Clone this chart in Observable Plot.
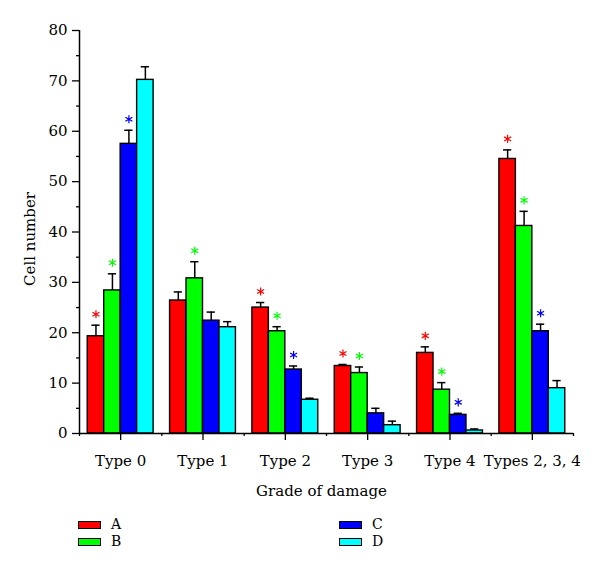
<!DOCTYPE html>
<html><head><meta charset="utf-8">
<script src="https://cdn.jsdelivr.net/npm/d3@7"></script>
<script src="https://cdn.jsdelivr.net/npm/@observablehq/plot@0.6"></script>
<style>
body{margin:0;background:#fff;font-family:"DejaVu Serif",serif;}
#chart svg{display:block;}
#legend{position:relative;height:67px;width:600px;}
.item{position:absolute;display:flex;align-items:center;height:15px;line-height:15px;font-size:14px;color:#000;}
.sw{width:21px;height:6px;border:1px solid #000;margin-right:10px;}
</style></head><body>
<div id="chart"></div>
<div id="legend"></div>
<script>
const groups = ["Type 0", "Type 1", "Type 2", "Type 3", "Type 4", "Types 2, 3, 4"];
const series = ["A", "B", "C", "D"];
const colors = ["#ff0000", "#00ff00", "#0000ff", "#00ffff"];
const valuesA = [19.3, 26.4, 25.0, 13.4, 16.0, 54.5];
const errorsA = [2.2, 1.7, 1.0, 0.3, 1.2, 1.8];
const sigA = [1, 0, 1, 1, 1, 1];
const valuesB = [28.4, 30.8, 20.3, 12.0, 8.7, 41.2];
const errorsB = [3.3, 3.3, 0.9, 1.2, 1.4, 2.9];
const sigB = [1, 1, 1, 1, 1, 1];
const valuesC = [57.5, 22.4, 12.7, 4.0, 3.7, 20.3];
const errorsC = [2.7, 1.7, 0.7, 1.0, 0.3, 1.4];
const sigC = [1, 0, 1, 0, 1, 1];
const valuesD = [70.2, 21.1, 6.7, 1.65, 0.6, 9.0];
const errorsD = [2.6, 1.1, 0.3, 0.8, 0.3, 1.5];
const sigD = [0, 0, 0, 0, 0, 0];
const yTicks = [0, 10, 20, 30, 40, 50, 60, 70, 80];
const yMinorTicks = [5, 15, 25, 35, 45, 55, 65, 75];

const values = [valuesA, valuesB, valuesC, valuesD];
const errors = [errorsA, errorsB, errorsC, errorsD];
const sigs = [sigA, sigB, sigC, sigD];
const barW = 0.2;
const data = [];
series.forEach((s, si) => groups.forEach((g, gi) => data.push({
  group: g, series: s, value: values[si][gi], err: errors[si][gi], sig: sigs[si][gi],
  cx: gi + (si - (series.length - 1) / 2) * barW
})));
const errTop = d => d.value + d.err;

const chart = Plot.plot({
  width: 600, height: 510,
  marginLeft: 79, marginRight: 27, marginTop: 30, marginBottom: 77,
  style: {fontFamily: "DejaVu Serif", fontSize: "15px", color: "#000", background: "#fff"},
  x: {type: "linear", domain: [-0.5, groups.length - 0.5]},
  y: {domain: [0, 80]},
  color: {domain: series, range: colors},
  marks: [
    Plot.rectY(data, {x1: d => d.cx - barW / 2, x2: d => d.cx + barW / 2, y1: 0, y2: "value", fill: "series", stroke: "#000", strokeWidth: 1.4}),
    Plot.ruleX(data, {x: "cx", y1: "value", y2: errTop, stroke: "#000", strokeWidth: 1.5}),
    Plot.ruleY(data, {y: errTop, x1: d => d.cx - 0.05, x2: d => d.cx + 0.05, stroke: "#000", strokeWidth: 1.5}),
    Plot.dot(data.filter(d => d.sig), {x: "cx", y: errTop, dy: -11, symbol: "asterisk", r: 3.8, stroke: "series", strokeWidth: 1.2}),
    Plot.ruleY([0], {stroke: "#000", strokeWidth: 1.5}),
    Plot.ruleX([-0.5], {y1: 0, y2: 80, stroke: "#000", strokeWidth: 1.5}),
    Plot.axisY({ticks: yTicks, tickSize: 7, tickPadding: 5, label: null, strokeWidth: 1.3}),
    Plot.axisY({ticks: yMinorTicks, tickSize: 3, tickFormat: () => "", label: null, strokeWidth: 1.3}),
    Plot.axisX({ticks: d3.range(groups.length), tickFormat: i => groups[i], tickSize: 7, tickPadding: 15, label: null, strokeWidth: 1.3}),
    Plot.axisX({ticks: d3.range(-0.5, groups.length, 1), tickSize: 3, tickFormat: () => "", label: null, strokeWidth: 1.3}),
    Plot.text(["Grade of damage"], {frameAnchor: "bottom", dy: 58, dx: -5, lineAnchor: "middle", fontSize: 15}),
    Plot.text(["Cell number"], {frameAnchor: "left", dx: -49, dy: 7, rotate: -90, textAnchor: "middle", lineAnchor: "middle", fontSize: 15})
  ]
});
document.getElementById("chart").appendChild(chart);

const legend = document.getElementById("legend");
const pos = [[78, 7], [78, 24], [339, 7], [339, 24]];
series.forEach((s, i) => {
  const it = document.createElement("div");
  it.className = "item";
  it.style.left = pos[i][0] + "px";
  it.style.top = pos[i][1] + "px";
  const sw = document.createElement("span");
  sw.className = "sw";
  sw.style.background = colors[i];
  it.appendChild(sw);
  it.appendChild(document.createTextNode(s));
  legend.appendChild(it);
});
</script>
</body></html>
